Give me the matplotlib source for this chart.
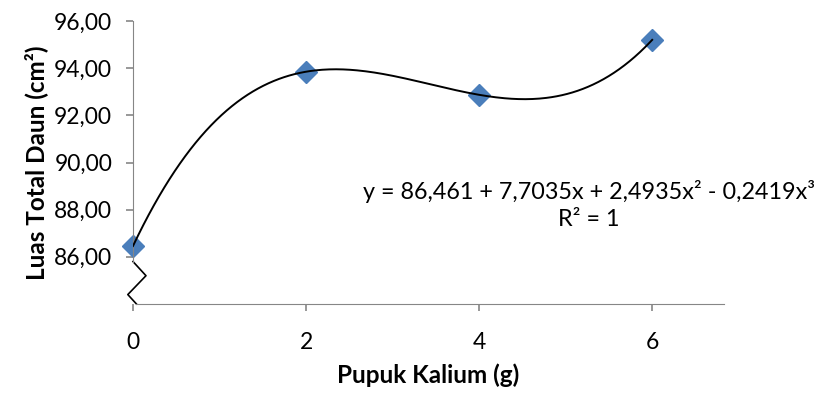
import numpy as np
import matplotlib.pyplot as plt

plt.rcParams['font.family'] = ['Lato', 'DejaVu Sans']

# data
pupuk = [0, 2, 4, 6]
luas_daun = [86.46, 93.85, 92.87, 95.20]
y_ticks = [86, 88, 90, 92, 94, 96]
y_labels = ['86,00', '88,00', '90,00', '92,00', '94,00', '96,00']
x_ticks = [0, 2, 4, 6]
persamaan = 'y = 86,461 + 7,7035x + 2,4935x² - 0,2419x³\nR² = 1'

fig = plt.figure(figsize=(8.23, 3.94), dpi=100)
ax = fig.add_axes([133/823, 1 - 304/394, (724 - 133)/823, (304 - 21)/394])

# polynomial trendline of order 3 through the points
koef = np.polyfit(pupuk, luas_daun, 3)
xs = np.linspace(min(pupuk), max(pupuk), 300)
ax.plot(xs, np.polyval(koef, xs), color='black', lw=1.4, zorder=3)
ax.plot(pupuk, luas_daun, linestyle='none', marker='D', markersize=11,
        color='#4A7EBB', zorder=2, clip_on=False)

ax.set_xlim(0, 6.83)
ax.set_ylim(84, 96)
ax.set_yticks(y_ticks)
ax.set_yticklabels(y_labels)
ax.set_xticks(x_ticks)

abu = '#868686'
for s in ['top', 'right']:
    ax.spines[s].set_visible(False)
ax.spines['left'].set_color(abu)
ax.spines['bottom'].set_color(abu)
ax.spines['left'].set_bounds(85.8, 96)
ax.spines['bottom'].set_bounds(0.04, 6.83)
ax.tick_params(axis='both', colors=abu, labelcolor='black', length=5,
               width=1.2, labelsize=16.5)
ax.tick_params(axis='x', pad=15)
ax.tick_params(axis='y', pad=10)

# axis break zigzag
ax.plot([0, 0.15, -0.06, 0.04], [85.8, 85.2, 84.4, 84], color='black',
        lw=1.2, clip_on=False)

ax.set_xlabel('Pupuk Kalium (g)', fontsize=17.5, fontweight='bold', labelpad=8)
ax.set_ylabel('Luas Total Daun (cm²)', fontsize=17.5, fontweight='bold', labelpad=4)

fig.text(589/823, 1 - 205/394, persamaan, fontsize=16.8, ha='center',
         va='center', multialignment='center', linespacing=1.3)

fig.savefig('out.png', dpi=100)
